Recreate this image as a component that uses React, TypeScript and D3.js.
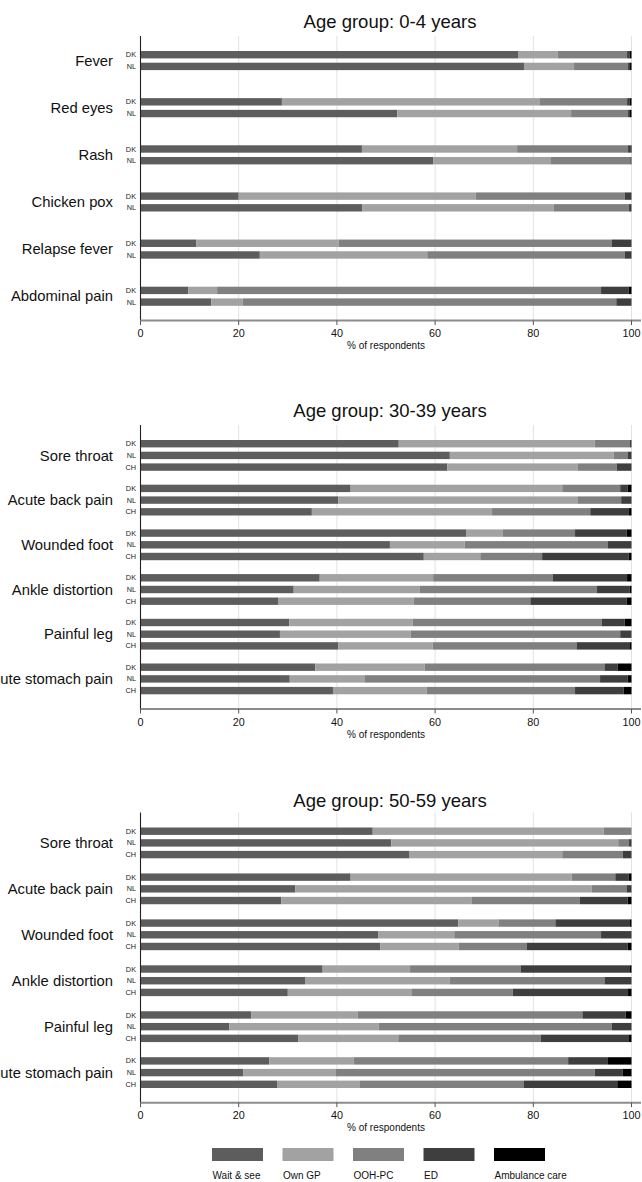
import React from "react";
import * as d3 from "d3";

// ---- categories & series ----
const careKeys = ["wait", "gp", "ooh", "ed", "amb"];
const careLabels = ["Wait & see", "Own GP", "OOH-PC", "ED", "Ambulance care"];
const careColors = ["#5d5d5d", "#a2a2a2", "#808080", "#3e3e3e", "#000000"];

const xTicks = [0, 20, 40, 60, 80, 100];

// Panel 1: Age group 0-4 years
const title1 = "Age group: 0-4 years";
const symptoms1 = ["Fever", "Red eyes", "Rash", "Chicken pox", "Relapse fever", "Abdominal pain"];
const countries1 = ["DK", "NL"];
// [wait, gp, ooh, ed, amb] per symptom x country
const values1 = [
  [[77.0, 8.0, 14.1, 0.5, 0.4], [78.1, 10.2, 11.0, 0.4, 0.3]],
  [[28.8, 52.45, 17.85, 0.5, 0.4], [52.3, 35.4, 11.6, 0.4, 0.3]],
  [[45.1, 31.6, 22.6, 0.5, 0.2], [59.6, 24.0, 16.15, 0.25, 0]],
  [[20.0, 48.3, 30.3, 1.4, 0], [45.2, 39.0, 15.3, 0.5, 0]],
  [[11.4, 29.0, 55.6, 4.0, 0], [24.3, 34.1, 40.2, 1.4, 0]],
  [[9.75, 5.85, 78.2, 5.6, 0.6], [14.4, 6.4, 76.1, 3.1, 0]],
];

// Panel 2: Age group 30-39 years
const title2 = "Age group: 30-39 years";
const symptoms2 = ["Sore throat", "Acute back pain", "Wounded foot", "Ankle distortion", "Painful leg", "Acute stomach pain"];
const countries2 = ["DK", "NL", "CH"];
const values2 = [
  [[52.6, 39.9, 7.2, 0.3, 0], [63.0, 33.4, 2.8, 0.8, 0], [62.5, 26.5, 8.0, 3.0, 0]],
  [[42.8, 43.1, 11.8, 1.5, 0.8], [40.3, 48.8, 8.8, 2.1, 0], [34.9, 36.7, 20.0, 7.9, 0.5]],
  [[66.4, 7.4, 14.7, 10.5, 1.0], [50.8, 15.2, 29.2, 4.8, 0], [57.7, 11.5, 12.6, 17.6, 0.6]],
  [[36.5, 23.1, 24.4, 15.1, 0.9], [31.2, 25.7, 36.0, 6.7, 0.4], [28.0, 27.6, 23.8, 19.6, 1.0]],
  [[30.3, 25.1, 38.5, 4.7, 1.4], [28.4, 26.6, 42.7, 2.3, 0], [40.3, 19.2, 29.3, 10.9, 0.3]],
  [[35.6, 22.3, 36.7, 2.6, 2.8], [30.4, 15.2, 48.0, 5.6, 0.8], [39.2, 19.1, 30.2, 9.9, 1.6]],
];

// Panel 3: Age group 50-59 years
const title3 = "Age group: 50-59 years";
const symptoms3 = ["Sore throat", "Acute back pain", "Wounded foot", "Ankle distortion", "Painful leg", "Acute stomach pain"];
const countries3 = ["DK", "NL", "CH"];
const values3 = [
  [[47.3, 47.0, 5.7, 0, 0], [51.1, 46.2, 2.2, 0.5, 0], [54.8, 31.1, 12.3, 1.8, 0]],
  [[42.8, 45.0, 8.9, 2.7, 0.6], [31.5, 60.4, 7.1, 1.0, 0], [28.7, 38.7, 22.1, 9.7, 0.8]],
  [[64.7, 8.3, 11.5, 15.2, 0.3], [48.4, 15.5, 29.9, 6.2, 0], [48.8, 16.0, 13.9, 20.5, 0.8]],
  [[37.1, 17.8, 22.5, 22.3, 0.3], [33.5, 29.5, 31.5, 5.5, 0], [30.0, 25.3, 20.5, 23.5, 0.7]],
  [[22.6, 21.6, 45.8, 8.8, 1.2], [18.1, 30.4, 47.5, 4.0, 0], [32.1, 20.4, 29.0, 18.0, 0.5]],
  [[26.2, 17.2, 43.7, 8.1, 4.8], [20.9, 18.8, 52.8, 5.7, 1.8], [27.8, 16.9, 33.3, 19.1, 2.9]],
];

// ---- layout ----
const W = 642;
const H = 1182;
const X0 = 140.5;
const X1 = 631.5;
const BAR_H = 7.4;
const BAR_STEP = 11.7;
const FONT = "'Liberation Sans', Arial, Helvetica, sans-serif";

const panels = [
  { title: title1, symptoms: symptoms1, countries: countries1, values: values1, top: 36, axis: 320.5, titleY: 28 },
  { title: title2, symptoms: symptoms2, countries: countries2, values: values2, top: 425, axis: 709, titleY: 417 },
  { title: title3, symptoms: symptoms3, countries: countries3, values: values3, top: 812.5, axis: 1102.7, titleY: 806.7 },
];

const x = d3.scaleLinear().domain([0, 100]).range([X0, X1]);
const color = d3.scaleOrdinal<string, string>().domain(careKeys).range(careColors);

function Panel({ p }: { p: typeof panels[number] }) {
  const nC = p.countries.length;
  const groupSpan = (nC - 1) * BAR_STEP + BAR_H;
  const yGroup = d3
    .scalePoint<string>()
    .domain(p.symptoms)
    .range([p.top + 15, p.axis - 14.7 - groupSpan]);
  const yCountry = d3
    .scalePoint<string>()
    .domain(p.countries)
    .range([0, (nC - 1) * BAR_STEP]);

  const rows: { symptom: string; country: string; [k: string]: any }[] = [];
  p.symptoms.forEach((s, i) => {
    p.countries.forEach((c, j) => {
      const r: any = { symptom: s, country: c };
      careKeys.forEach((k, m) => (r[k] = p.values[i][j][m]));
      rows.push(r);
    });
  });
  const series = d3.stack<any>().keys(careKeys)(rows);

  return (
    <g>
      <text
        x={390}
        y={p.titleY}
        textAnchor="middle"
        fontSize={18.5}
        fontFamily={FONT}
        fill="#111"
      >
        {p.title}
      </text>
      {xTicks.filter((t) => t > 0).map((t) => (
        <line key={"g" + t} x1={x(t)} x2={x(t)} y1={p.top} y2={p.axis} stroke="#e2e2e2" strokeWidth={1} />
      ))}
      {series.map((s) => (
        <g key={s.key} fill={color(s.key)}>
          {s.map((d, i) => {
            const w = x(d[1]) - x(d[0]);
            if (w <= 0) return null;
            return (
              <rect
                key={i}
                x={x(d[0])}
                y={(yGroup(d.data.symptom) as number) + (yCountry(d.data.country) as number)}
                width={w}
                height={BAR_H}
              />
            );
          })}
        </g>
      ))}
      {/* symptom labels */}
      {p.symptoms.map((s) => (
        <text
          key={s}
          x={113}
          y={(yGroup(s) as number) + groupSpan / 2}
          dy="0.35em"
          textAnchor="end"
          fontSize={14.8}
          fontFamily={FONT}
          fill="#111"
        >
          {s}
        </text>
      ))}
      {/* country labels */}
      {p.symptoms.map((s) =>
        p.countries.map((c) => (
          <text
            key={s + c}
            x={136}
            y={(yGroup(s) as number) + (yCountry(c) as number) + BAR_H / 2}
            dy="0.35em"
            textAnchor="end"
            fontSize={7.3}
            fontFamily={FONT}
            fill="#222"
          >
            {c}
          </text>
        ))
      )}
      {/* y axis */}
      <line x1={X0} x2={X0} y1={p.top} y2={p.axis} stroke="#222" strokeWidth={1.1} />
      {/* x axis */}
      <line x1={X0} x2={641} y1={p.axis} y2={p.axis} stroke="#8c8c8c" strokeWidth={2} />
      {xTicks.map((t) => (
        <g key={"t" + t}>
          <line x1={x(t)} x2={x(t)} y1={p.axis} y2={p.axis + 4.5} stroke="#555" strokeWidth={1} />
          <text
            x={x(t)}
            y={p.axis + 13}
            dy="0.35em"
            textAnchor="middle"
            fontSize={10.8}
            fontFamily={FONT}
            fill="#111"
          >
            {t}
          </text>
        </g>
      ))}
      <text
        x={x(50)}
        y={p.axis + 25}
        dy="0.35em"
        textAnchor="middle"
        fontSize={10}
        fontFamily={FONT}
        fill="#111"
      >
        % of respondents
      </text>
    </g>
  );
}

const legendX = d3.scalePoint<string>().domain(careKeys).range([212, 494]);

export default function App() {
  return (
    <svg
      width={W}
      height={H}
      viewBox={`0 0 ${W} ${H}`}
      style={{ position: "absolute", left: 0, top: 0, background: "#fff" }}
    >
      <rect x={0} y={0} width={W} height={H} fill="#fff" />
      {panels.map((p, i) => (
        <Panel key={i} p={p} />
      ))}
      {careKeys.map((k, i) => (
        <g key={k}>
          <rect x={legendX(k)} y={1148} width={51} height={13} fill={color(k)} />
          <text x={(legendX(k) as number) + 0.5} y={1175} dy="0.35em" fontSize={10} fontFamily={FONT} fill="#111">
            {careLabels[i]}
          </text>
        </g>
      ))}
    </svg>
  );
}
